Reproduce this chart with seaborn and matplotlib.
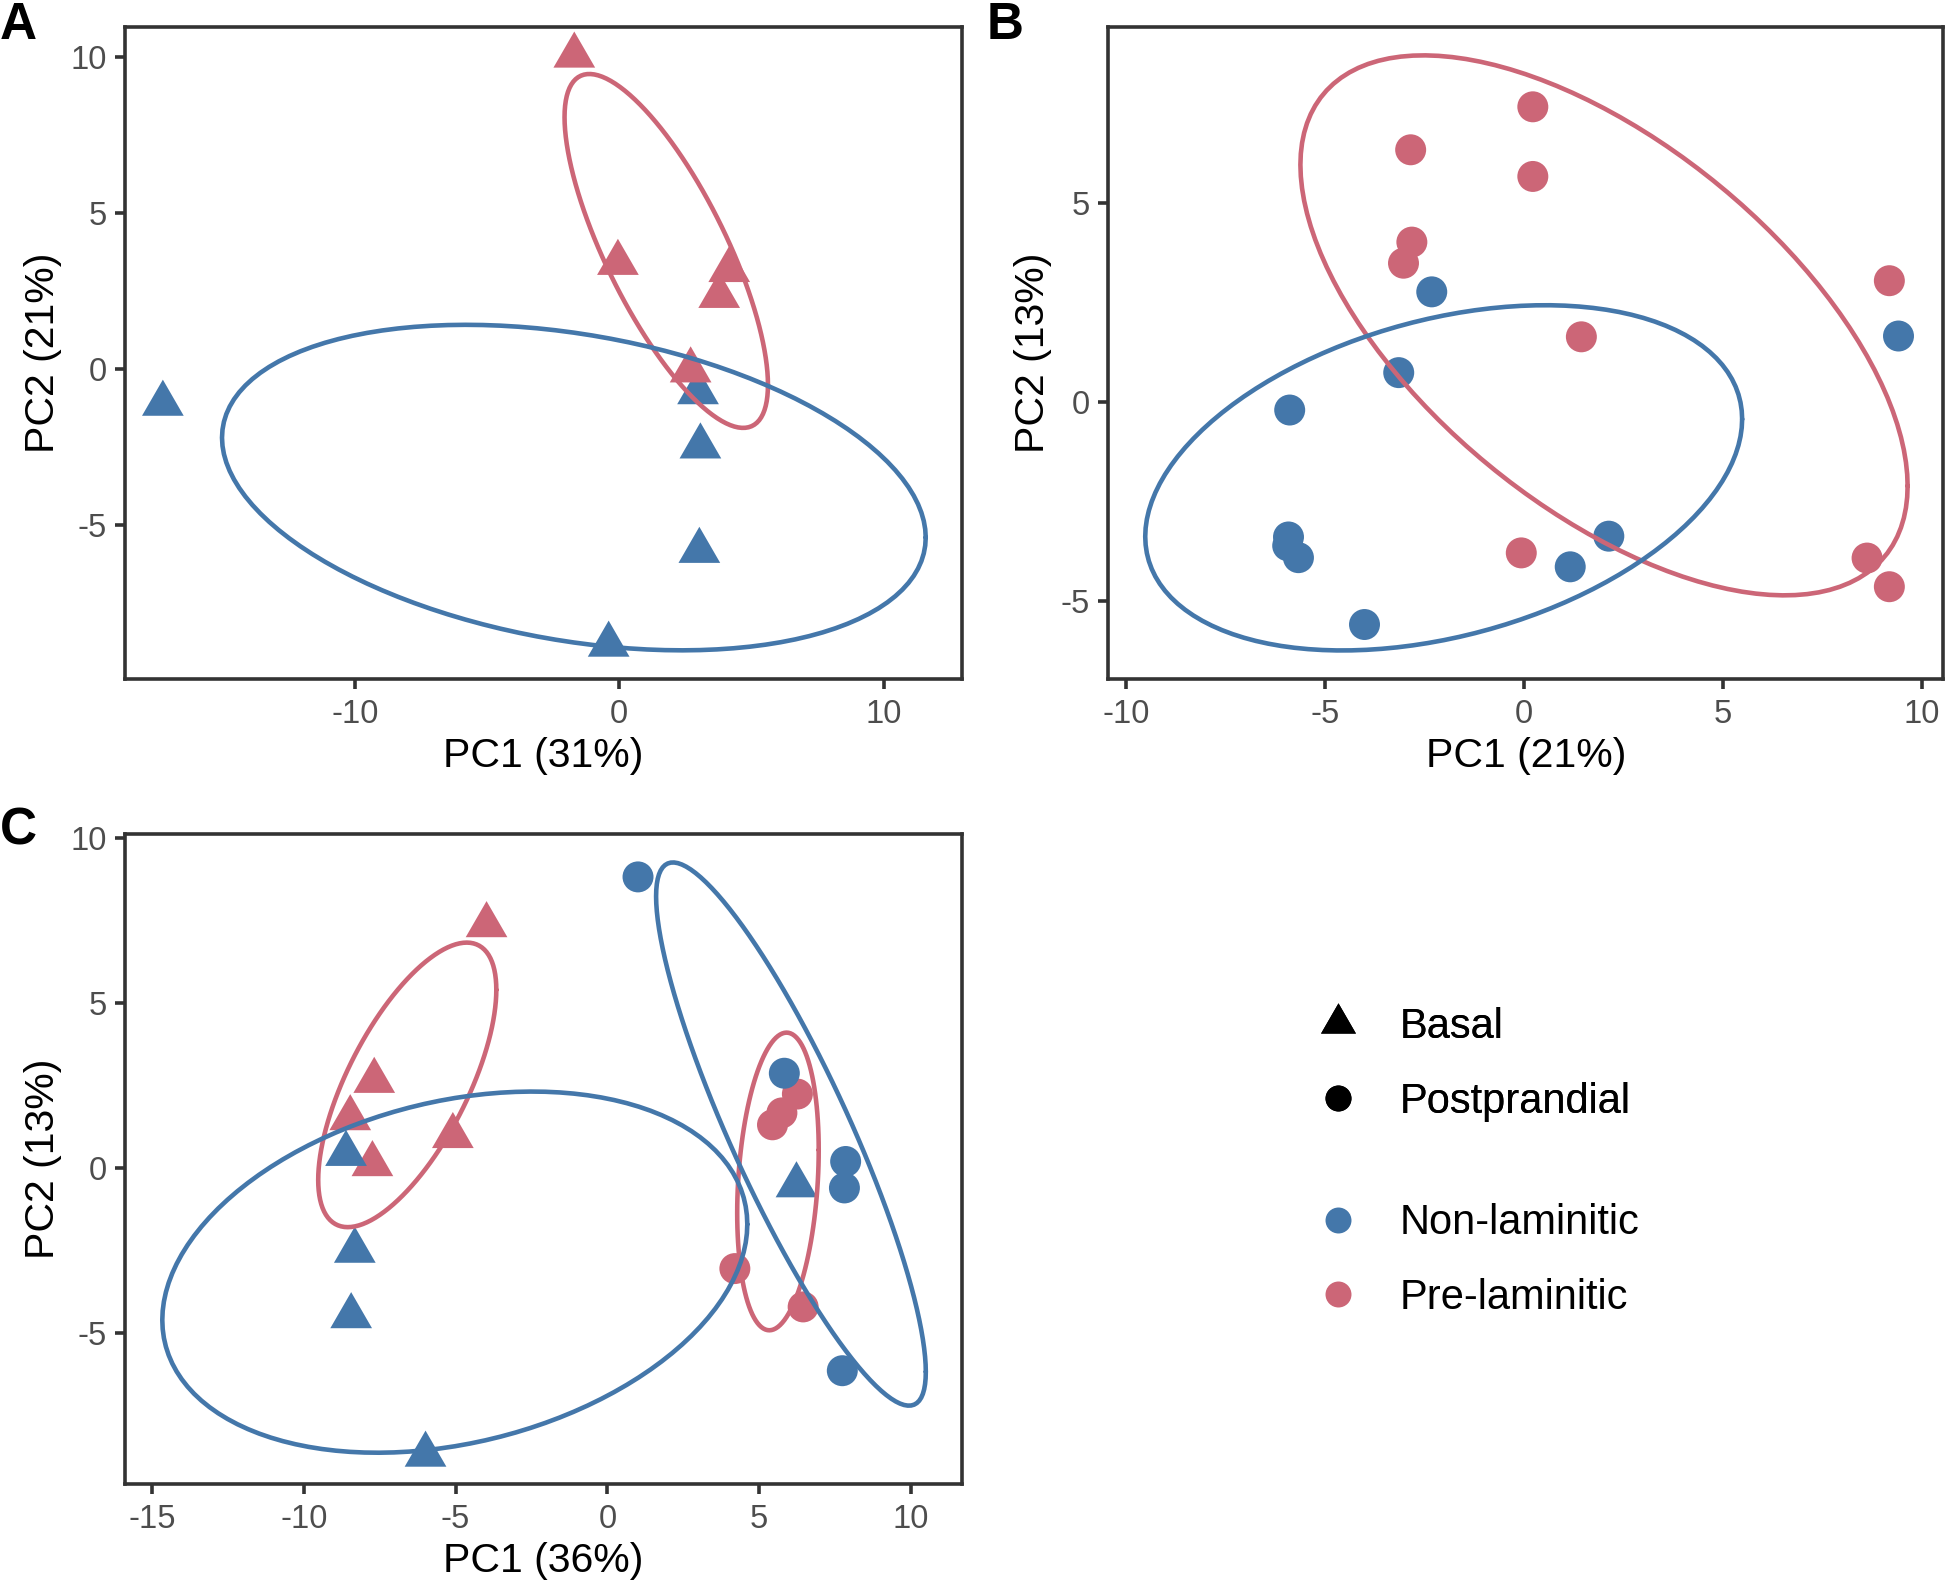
import numpy as np
import pandas as pd
import matplotlib
matplotlib.use("Agg")
import matplotlib.pyplot as plt
from matplotlib.path import Path
from matplotlib.lines import Line2D
import seaborn as sns

# ---- data ----
# panel A (all basal samples)
a_pc1 = [-17.26, 2.98, 3.07, 3.03, -0.40, -1.70, -0.05, 4.16, 3.78, 2.70]
a_pc2 = [-1.12, -0.75, -2.49, -5.84, -8.85, 10.05, 3.40, 3.17, 2.34, -0.05]
a_status = ["Non-laminitic"] * 5 + ["Pre-laminitic"] * 5
a_time = ["Basal"] * 10

# panel B (all postprandial samples)
b_pc1 = [0.23, -2.84, 0.23, -2.81, -3.02, 1.45, 9.19, -0.06, 8.63, 9.19,
         -2.31, -3.14, -5.88, -5.91, -5.93, -5.66, -4.00, 1.17, 2.14, 9.42]
b_pc2 = [7.41, 6.33, 5.66, 4.01, 3.48, 1.63, 3.04, -3.80, -3.93, -4.65,
         2.76, 0.73, -0.21, -3.40, -3.62, -3.92, -5.60, -4.15, -3.38, 1.65]
b_status = ["Pre-laminitic"] * 10 + ["Non-laminitic"] * 10
b_time = ["Postprandial"] * 20

# panel C (both time points)
c_pc1 = [-3.98, -7.68, -8.47, -7.74, -5.09,
         6.26, 5.75, 5.44, 4.20, 6.45,
         -8.61, -8.32, -8.44, -5.99, 6.23,
         1.01, 5.83, 7.85, 7.81, 7.74]
c_pc2 = [7.35, 2.64, 1.51, 0.12, 0.97,
         2.24, 1.67, 1.31, -3.04, -4.20,
         0.43, -2.50, -4.48, -8.67, -0.52,
         8.81, 2.87, 0.20, -0.60, -6.13]
c_status = ["Pre-laminitic"] * 10 + ["Non-laminitic"] * 10
c_time = (["Basal"] * 5 + ["Postprandial"] * 5) * 2

x_labels = ["PC1 (31%)", "PC1 (21%)", "PC1 (36%)"]
y_labels = ["PC2 (21%)", "PC2 (13%)", "PC2 (13%)"]
panel_tags = ["A", "B", "C"]

palette = {"Non-laminitic": "#4477AA", "Pre-laminitic": "#CC6677"}

# R-style triangle (centred on its centroid, like pch 17)
TRC0 = np.sqrt(4 * np.pi / (3 * np.sqrt(3)))
TRC1 = TRC0 * np.sqrt(3) / 2
TRC2 = TRC0 / 2
tri = Path([(0, TRC0), (-TRC1, -TRC2), (TRC1, -TRC2), (0, TRC0)],
           [Path.MOVETO, Path.LINETO, Path.LINETO, Path.CLOSEPOLY])

circ_pt = 22.3
sizes = {"Basal": (TRC0 * circ_pt) ** 2, "Postprandial": circ_pt ** 2}
markers = {"Basal": tri, "Postprandial": "o"}


def ellipse_path(x, level=0.68, segments=120):
    # normal-theory data ellipse: mean, sample covariance, chi-square radius
    center = x.mean(axis=0)
    shape = np.cov(x, rowvar=False)
    radius = np.sqrt(-2 * np.log(1 - level))
    ang = np.linspace(0, 2 * np.pi, segments + 1)
    unit = np.column_stack([np.cos(ang), np.sin(ang)])
    chol = np.linalg.cholesky(shape).T
    return center + radius * (unit @ chol)


sns.set_theme(style="white")
plt.rcParams["font.family"] = ["Liberation Sans", "DejaVu Sans"]
plt.rcParams["axes.unicode_minus"] = False
plt.rcParams["text.color"] = "black"

fig = plt.figure(figsize=(19.46, 15.83), dpi=100)
positions = [[0.0644, 0.5713, 0.4299, 0.4115],
             [0.5695, 0.5713, 0.4292, 0.4115],
             [0.0644, 0.0627, 0.4299, 0.4107]]
xlims = [(-18.68, 12.96), (-10.44, 10.55), (-15.88, 11.68)]
ylims = [(-9.94, 10.96), (-6.96, 9.41), (-9.55, 10.12)]
xticks = [[-10, 0, 10], [-10, -5, 0, 5, 10], [-15, -10, -5, 0, 5, 10]]
yticks = [[-5, 0, 5, 10], [-5, 0, 5], [-5, 0, 5, 10]]

frames = [
    pd.DataFrame({"PC1": a_pc1, "PC2": a_pc2, "Status": a_status, "Time": a_time}),
    pd.DataFrame({"PC1": b_pc1, "PC2": b_pc2, "Status": b_status, "Time": b_time}),
    pd.DataFrame({"PC1": c_pc1, "PC2": c_pc2, "Status": c_status, "Time": c_time}),
]

for i, df in enumerate(frames):
    ax = fig.add_axes(positions[i])
    sns.scatterplot(data=df, x="PC1", y="PC2", hue="Status", style="Time",
                    size="Time", sizes=sizes, markers=markers, palette=palette,
                    linewidth=0, legend=False, ax=ax, zorder=2)
    # ellipses per status x time group
    for status in ["Pre-laminitic", "Non-laminitic"]:
        for t in ["Basal", "Postprandial"]:
            sub = df[(df["Status"] == status) & (df["Time"] == t)]
            if len(sub) < 3:
                continue
            e = ellipse_path(sub[["PC1", "PC2"]].to_numpy())
            ax.plot(e[:, 0], e[:, 1], color=palette[status], lw=3.3, zorder=3)
    ax.set_xlim(xlims[i])
    ax.set_ylim(ylims[i])
    ax.set_xticks(xticks[i])
    ax.set_yticks(yticks[i])
    ax.set_xlabel(x_labels[i], fontsize=29.5, color="black", labelpad=5)
    ax.set_ylabel(y_labels[i], fontsize=29.5, color="black", labelpad=6)
    ax.tick_params(axis="both", which="major", length=7.2, width=2.6,
                   color="#333333", labelsize=23.5, labelcolor="#4D4D4D",
                   bottom=True, left=True)
    ax.tick_params(axis="x", pad=7.5)
    ax.tick_params(axis="y", pad=6)
    for sp in ax.spines.values():
        sp.set_color("#333333")
        sp.set_linewidth(2.6)
    ax.grid(False)

tag_pos = [(0.0, 0.9754), (0.507, 0.9754), (0.0, 0.4668)]
for tag, (tx, ty) in zip(panel_tags, tag_pos):
    fig.text(tx, ty, tag, fontsize=37, fontweight="bold", color="black",
             va="baseline", ha="left")

# legends
leg_pt = 18.7
shape_handles = [
    Line2D([], [], ls="none", marker=tri, markersize=TRC0 * leg_pt, color="black", markeredgewidth=0),
    Line2D([], [], ls="none", marker="o", markersize=leg_pt, color="black", markeredgewidth=0),
]
color_handles = [
    Line2D([], [], ls="none", marker="o", markersize=leg_pt, color=palette["Non-laminitic"], markeredgewidth=0),
    Line2D([], [], ls="none", marker="o", markersize=leg_pt, color=palette["Pre-laminitic"], markeredgewidth=0),
]
leg_kw = dict(frameon=False, fontsize=30, handlelength=1.0, handletextpad=0.99,
              borderpad=0, borderaxespad=0, labelspacing=0.83, loc="center left",
              labelcolor="black")
leg1 = fig.legend(shape_handles, ["Basal", "Postprandial"],
                  bbox_to_anchor=(0.6768, 0.3277), **leg_kw)
fig.add_artist(leg1)
fig.legend(color_handles, ["Non-laminitic", "Pre-laminitic"],
           bbox_to_anchor=(0.6768, 0.2036), **leg_kw)

fig.savefig("out.png", dpi=100)
